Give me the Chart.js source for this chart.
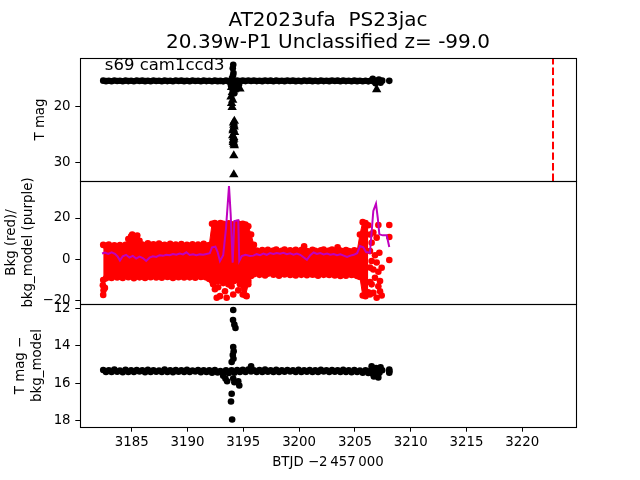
<!DOCTYPE html>
<html><head><meta charset="utf-8">
<script src="https://cdn.jsdelivr.net/npm/chart.js@4.4.1/dist/chart.umd.min.js"></script>
<style>
html,body{margin:0;padding:0;background:#fff;}
#wrap{position:relative;width:640px;height:480px;background:#fff;}
#wrap canvas{position:absolute;left:0;top:0;}
</style></head><body>
<div id="wrap">
<canvas id="c1" width="640" height="480"></canvas>
<canvas id="c2" width="640" height="480"></canvas>
<canvas id="c3" width="640" height="480"></canvas>
</div>
<script>
// ---------------- text ----------------
const titleLines = ['AT2023ufa  PS23jac', '20.39w-P1 Unclassified z= -99.0'];
const sectorLabel = 's69 cam1ccd3';
const xTitle = 'BTJD \u22122\u2009457\u2009000';
const magTitle = 'T mag';
const bkgTitle = ['Bkg (red)/', 'bkg_model (purple)'];
const diffTitle = ['T mag \u2212', 'bkg_model'];

// ---------------- ticks / ranges ----------------
const xTicks = [3185, 3190, 3195, 3200, 3205, 3210, 3215, 3220];
const magTicks = [20, 30];
const bkgTicks = [-20, 0, 20];
const diffTicks = [12, 14, 16, 18];
const xRange = [3180.37, 3224.81];
const magRange = [11.24, 33.36];
const bkgRange = [-21.6, 37.9];
const diffRange = [11.78, 18.34];
const vlineTime = 3222.75;

// ---------------- light-curve sample times ----------------
const times = [
3182.45,3182.70,3182.95,3183.20,3183.45,3183.70,3183.95,3184.20,3184.45,3184.70,
3184.95,3185.20,3185.45,3185.70,3185.95,3186.20,3186.45,3186.70,3186.95,3187.20,
3187.45,3187.70,3187.95,3188.20,3188.45,3188.70,3188.95,3189.20,3189.45,3189.70,
3189.95,3190.20,3190.45,3190.70,3190.95,3191.20,3191.45,3191.70,3191.95,3192.20,
3192.45,3192.70,3192.95,3193.20,3193.45,3193.70,3193.95,3194.20,3194.45,3194.70,
3194.95,3195.20,3195.45,3195.70,3195.95,3196.20,3196.45,3196.70,3196.95,3197.20,
3197.45,3197.70,3197.95,3198.20,3198.45,3198.70,3198.95,3199.20,3199.45,3199.70,
3199.95,3200.20,3200.45,3200.70,3200.95,3201.20,3201.45,3201.70,3201.95,3202.20,
3202.45,3202.70,3202.95,3203.20,3203.45,3203.70,3203.95,3204.20,3204.45,3204.70,
3204.95,3205.20,3205.45,3205.70,3205.95,3206.20,3206.45,3206.70,3206.95,3207.20,
3207.45,3208.08];

// panel 1: T mag (circles)
const bandMag = [
15.31,15.40,15.33,15.42,15.29,15.38,15.32,15.41,15.30,15.39,
15.34,15.42,15.28,15.37,15.31,15.40,15.33,15.41,15.29,15.38,
15.32,15.42,15.30,15.39,15.33,15.41,15.28,15.38,15.31,15.40,
15.34,15.42,15.29,15.37,15.32,15.41,15.30,15.39,15.33,15.42,
15.31,15.40,15.36,15.44,15.30,15.45,15.33,15.42,15.29,15.40,
15.31,15.39,15.28,15.37,15.30,15.39,15.32,15.40,15.29,15.38,
15.31,15.41,15.30,15.39,15.33,15.40,15.28,15.37,15.31,15.40,
15.32,15.41,15.29,15.38,15.31,15.40,15.33,15.41,15.30,15.39,
15.32,15.40,15.29,15.38,15.31,15.41,15.30,15.39,15.33,15.42,
15.31,15.40,15.34,15.43,15.32,15.44,15.30,15.45,15.33,15.46,
15.31,15.35];
const magSpikeT = [3194.10,3194.06,3194.12,3194.08,3193.98,3194.02,3193.90,3194.15,3194.30,3194.55,3194.62,3194.05,3194.20,3193.85,3206.60,3206.85,3207.15,3206.95,3207.30];
const magSpikeV = [12.45,13.10,13.95,14.40,14.90,15.90,16.20,16.50,16.10,16.70,16.00,17.00,17.60,15.70,15.00,15.80,15.10,15.55,15.70];
// panel 1: limits (triangles)
const limT = [3193.95,3194.20,3194.70,3194.02,3193.90,3194.05,3193.95,3194.00,3194.20,3194.15,3194.10,3194.22,3194.05,3194.15,3194.10,3194.20,3194.15,3194.15,3206.95,
3194.12,3194.18,3194.08,3194.14,3194.10,3194.16];
const limV = [16.5,16.9,16.8,17.4,18.2,18.8,19.4,20.1,22.6,23.3,24.0,24.6,25.2,25.8,26.4,27.0,28.8,32.2,16.9,
22.9,23.6,24.3,25.5,26.1,26.7];

// panel 2: background (red) envelope of the dense scatter + isolated points
const bkgUpper = [
7.0,6.5,7.2,6.0,6.8,6.2,6.9,6.0,7.0,9.8,
11.2,9.5,10.8,9.0,7.2,6.5,7.8,6.9,7.3,6.2,
7.6,6.8,7.0,6.3,7.5,6.6,7.2,6.4,7.4,6.1,
7.0,6.5,7.3,6.2,7.1,6.4,7.5,6.6,6.9,17.2,
17.5,16.8,17.6,17.2,16.5,17.4,17.0,16.8,17.5,16.9,
17.2,16.8,16.0,12.0,7.0,4.2,3.6,4.5,3.8,4.6,
3.5,4.3,4.8,3.7,4.1,4.7,3.6,4.4,3.9,4.6,
3.8,4.5,6.3,4.0,3.7,4.6,4.1,3.5,4.4,4.8,
3.9,4.2,4.7,3.6,5.8,4.3,3.8,4.5,4.0,3.7,
4.4,3.9,12.0,18.0,17.5,16.5];
const bkgLower = [
-10.0,-9.2,-8.5,-9.0,-8.0,-8.8,-8.4,-9.0,-7.8,-8.6,
-8.2,-9.1,-8.0,-8.7,-8.3,-9.0,-8.1,-8.6,-7.9,-8.8,
-8.2,-8.9,-8.0,-8.5,-8.3,-9.0,-7.8,-8.6,-8.1,-8.8,
-8.0,-8.7,-8.2,-8.9,-7.9,-8.5,-8.3,-8.8,-9.5,-10.5,
-9.8,-10.6,-9.5,-10.2,-9.7,-10.8,-9.4,-10.1,-9.6,-12.0,
-17.0,-17.5,-12.0,-8.0,-7.2,-6.6,-7.5,-6.9,-7.8,-7.0,
-6.5,-7.4,-7.0,-7.9,-6.8,-7.3,-6.6,-7.6,-7.1,-7.8,
-6.9,-7.5,-7.0,-7.7,-6.7,-7.4,-7.2,-7.9,-6.8,-7.5,
-7.1,-7.6,-6.9,-7.8,-7.3,-8.0,-7.2,-7.9,-7.0,-7.6,
-7.3,-8.0,-8.5,-17.5,-17.8,-16.0];
const bkgOutT = [3182.42,3182.48,3182.45,3182.60,3185.05,3185.50,
3192.30,3192.46,3192.62,3192.75,3192.91,3193.20,3193.36,3193.51,3193.66,3193.95,3194.10,3194.17,3194.55,3194.86,3195.30,3195.45,
3206.35,3206.35,3206.35,3206.35,3206.35,3206.50,3206.50,3206.50,3206.65,3206.65,3206.65,3206.80,3206.80,
3206.95,3206.95,3206.95,3207.10,3207.10,3207.10,3207.19,3207.25,3207.25,3207.40,3207.40,3208.08,3208.08,3208.08];
const bkgOutV = [-12.5,-15.0,-17.2,-13.8,12.0,11.5,
-12.0,-14.5,-18.6,-13.5,-17.8,-11.5,-15.4,-18.6,-12.1,-13.0,-17.0,-10.5,-15.0,-8.1,-17.8,-10.5,
12.0,4.0,-4.0,-11.0,-17.0,-0.8,-12.1,8.0,-4.9,-16.2,13.0,-8.9,2.0,
-18.6,10.5,-1.5,16.6,-6.0,-13.0,3.2,-10.5,-15.4,-4.1,-17.5,16.6,10.8,-0.3];
// panel 2: bkg_model (purple line)
const modelT = [3182.35,3182.60,3182.90,3183.20,3183.50,3183.75,3183.95,3184.20,3184.50,3184.80,
3185.10,3185.40,3185.70,3186.00,3186.30,3186.60,3186.90,3187.20,3187.50,3187.80,
3188.10,3188.40,3188.70,3189.00,3189.30,3189.60,3189.90,3190.20,3190.50,3190.80,
3191.10,3191.40,3191.70,3192.00,3192.20,3192.50,3192.70,3192.91,3193.20,3193.45,
3193.72,3193.87,3194.05,3194.20,3194.55,3194.64,3194.86,3195.20,3195.60,3195.90,
3196.20,3196.50,3196.80,3197.10,3197.40,3197.70,3198.00,3198.30,3198.60,3198.90,
3199.20,3199.50,3199.80,3200.10,3200.40,3200.70,3201.00,3201.30,3201.60,3201.90,
3202.20,3202.50,3202.80,3203.10,3203.40,3203.70,3204.00,3204.30,3204.60,3204.90,
3205.20,3205.46,3205.75,3206.00,3206.35,3206.65,3206.89,3207.05,3207.19,3207.50,
3207.85,3208.08];
const modelV = [2.8,3.3,2.6,3.4,2.7,1.3,-0.6,1.5,2.2,0.9,
1.7,0.4,1.3,0.6,-0.8,0.8,1.5,1.2,2.0,1.7,
2.2,2.0,2.6,2.2,2.8,2.4,3.4,2.1,2.5,2.0,
2.4,2.2,2.6,3.0,5.8,6.1,3.5,-0.8,2.0,15.0,
35.5,21.8,-1.6,18.5,18.9,-0.8,1.6,2.2,1.6,1.8,
2.5,2.0,2.8,2.2,3.0,2.6,3.1,2.7,3.2,2.5,
2.9,2.3,2.8,2.2,1.0,-0.2,2.0,3.3,2.6,3.0,
2.4,2.8,2.2,2.6,2.0,2.4,1.8,1.2,1.8,2.2,
3.0,6.4,5.8,3.5,3.2,23.4,26.9,20.0,12.1,11.6,
11.6,6.0];

// panel 3: T mag - bkg_model
const diffBand = [
15.30,15.41,15.32,15.40,15.28,15.39,15.33,15.42,15.29,15.40,
15.31,15.41,15.30,15.38,15.32,15.42,15.29,15.40,15.31,15.39,
15.33,15.41,15.28,15.40,15.32,15.42,15.30,15.39,15.31,15.41,
15.29,15.40,15.33,15.38,15.30,15.42,15.31,15.40,15.32,15.44,
15.30,15.43,15.35,15.45,15.31,15.46,15.32,15.44,15.30,15.41,
15.29,15.40,15.27,15.38,15.31,15.40,15.30,15.41,15.28,15.39,
15.32,15.40,15.29,15.41,15.31,15.39,15.30,15.38,15.32,15.41,
15.29,15.40,15.31,15.39,15.30,15.41,15.32,15.40,15.29,15.38,
15.31,15.41,15.30,15.39,15.32,15.40,15.29,15.41,15.31,15.42,
15.30,15.41,15.33,15.44,15.31,15.46,15.30,15.47,15.32,15.45,
15.31,15.36];
const diffSpikeT = [3194.10,3194.08,3194.20,3194.30,3194.10,3194.14,3194.06,3194.12,3193.96,3194.10,3194.20,3194.55,3194.64,3193.96,3193.90,3194.00,
3193.20,3193.40,3193.55,3195.70,3206.50,3206.70,3206.90,3207.10,3207.30,3206.60,3207.00,3208.08,3208.08];
const diffSpikeV = [12.10,12.63,12.88,13.06,14.07,14.30,14.50,14.70,14.87,15.75,15.95,15.90,16.13,16.57,16.98,17.94,
15.60,15.75,15.90,15.10,15.10,15.65,15.20,15.70,15.15,15.50,15.55,15.28,15.44];

// ---------------- helpers ----------------
const pts = (xs, ys) => xs.map((x, i) => ({x: x, y: ys[i]}));
const fmtNum = v => (v < 0 ? '\u2212' + Math.abs(v) : String(v));
const FONT = 'DejaVu Sans';
Chart.defaults.font.family = FONT;
Chart.defaults.font.size = 13.33;
Chart.defaults.color = '#000';

const framePlugin = {
  id: 'frame',
  afterDraw(chart) {
    const {ctx, chartArea: a} = chart;
    ctx.save();
    ctx.strokeStyle = '#000';
    ctx.lineWidth = 1.1;
    ctx.strokeRect(a.left + 0.5, a.top + 0.5, a.right - a.left, a.bottom - a.top);
    ctx.restore();
  }
};
const cornerTextPlugin = {
  id: 'cornerText',
  afterDatasetsDraw(chart, args, opts) {
    if (!opts || !opts.text) return;
    const {ctx, chartArea: a} = chart;
    ctx.save();
    ctx.font = '16.5px "' + FONT + '"';
    ctx.fillStyle = '#000';
    ctx.textAlign = 'left';
    ctx.textBaseline = 'alphabetic';
    ctx.fillText(opts.text, a.left + 0.05 * (a.right - a.left), a.top + 0.1 * (a.bottom - a.top));
    ctx.restore();
  }
};

const tickGrid = {display: true, drawOnChartArea: false, drawTicks: true, tickLength: 4.7, color: '#000', lineWidth: 1};

function yScale(range, reverse, ticks, title, titlePad) {
  return {
    type: 'linear', position: 'left', min: range[0], max: range[1], reverse: reverse,
    afterBuildTicks: s => { s.ticks = ticks.map(v => ({value: v})); },
    afterFit: s => { s.width = 80; },
    grid: tickGrid,
    border: {display: false},
    ticks: {padding: 4.7, color: '#000', font: {size: 13.33}, callback: v => fmtNum(v)},
    title: {display: true, text: title, color: '#000', font: {size: 13.33, lineHeight: 1.275}, padding: {top: titlePad, bottom: 0}}
  };
}
const hiddenX = {type: 'linear', min: xRange[0], max: xRange[1], display: false};

function baseOptions(padding, yScaleCfg, xScaleCfg, extraPlugins) {
  return {
    responsive: false, animation: false, devicePixelRatio: 1, events: [],
    layout: {padding: padding},
    scales: {x: xScaleCfg, y: yScaleCfg},
    plugins: Object.assign({legend: {display: false}, tooltip: {enabled: false}, title: {display: false}}, extraPlugins || {})
  };
}
const dot = (color, r) => ({pointStyle: 'circle', pointRadius: r, pointBackgroundColor: color, pointBorderWidth: 0, showLine: false});

// ---------------- panel 1 ----------------
new Chart(document.getElementById('c1'), {
  type: 'scatter',
  data: {datasets: [
    Object.assign({data: pts(times, bandMag)}, dot('#000', 3.3)),
    Object.assign({data: pts(magSpikeT, magSpikeV)}, dot('#000', 3.3)),
    {data: pts(limT, limV), pointStyle: 'triangle', pointRadius: 5.4, pointBackgroundColor: '#000', pointBorderWidth: 0, showLine: false},
    {type: 'line', data: [{x: vlineTime, y: magRange[1]}, {x: vlineTime, y: magRange[0]}], borderColor: '#ff0000', borderWidth: 2, borderDash: [7.4, 3.2], pointRadius: 0, fill: false}
  ]},
  options: baseOptions({left: 0, right: 64, top: 0, bottom: 299}, yScale(magRange, true, magTicks, magTitle, 31.7), hiddenX, {
    title: {display: true, text: titleLines, fullSize: false, color: '#000', font: {size: 20, lineHeight: 1.1, weight: 'normal'}, padding: {top: 9.5, bottom: 4.5}},
    cornerText: {text: sectorLabel}
  }),
  plugins: [cornerTextPlugin, framePlugin]
});

// ---------------- panel 2 ----------------
const bkgTimes = times.slice(0, bkgUpper.length);
new Chart(document.getElementById('c2'), {
  type: 'scatter',
  data: {datasets: [
    {type: 'line', data: pts(modelT, modelV), borderColor: '#bf00bf', borderWidth: 2, pointRadius: 0, fill: false, tension: 0},
    Object.assign({type: 'line', data: pts(bkgTimes, bkgUpper), borderColor: '#ff0000', borderWidth: 1, backgroundColor: '#ff0000', fill: '+1', tension: 0}, dot('#ff0000', 3.3), {showLine: true}),
    Object.assign({type: 'line', data: pts(bkgTimes, bkgLower), borderColor: '#ff0000', borderWidth: 1, fill: false, tension: 0}, dot('#ff0000', 3.3), {showLine: true}),
    Object.assign({data: pts(bkgOutT, bkgOutV)}, dot('#ff0000', 3.3))
  ]},
  options: baseOptions({left: 0, right: 64, top: 181, bottom: 176}, yScale(bkgRange, false, bkgTicks, bkgTitle, 3.5), hiddenX),
  plugins: [framePlugin]
});

// ---------------- panel 3 ----------------
new Chart(document.getElementById('c3'), {
  type: 'scatter',
  data: {datasets: [
    Object.assign({data: pts(times, diffBand)}, dot('#000', 3.3)),
    Object.assign({data: pts(diffSpikeT, diffSpikeV)}, dot('#000', 3.3))
  ]},
  options: baseOptions({left: 0, right: 64, top: 304, bottom: 0}, yScale(diffRange, true, diffTicks, diffTitle, 12.5), {
    type: 'linear', position: 'bottom', min: xRange[0], max: xRange[1],
    afterBuildTicks: s => { s.ticks = xTicks.map(v => ({value: v})); },
    afterFit: s => { s.height = 53; },
    grid: tickGrid,
    border: {display: false},
    ticks: {padding: 2.8, maxRotation: 0, minRotation: 0, autoSkip: false, color: '#000', font: {size: 13.33}, callback: v => String(v)},
    title: {display: true, text: xTitle, color: '#000', font: {size: 13.33, lineHeight: 1.2}, padding: {top: 0, bottom: 9}}
  }),
  plugins: [framePlugin]
});
</script>
</body></html>
